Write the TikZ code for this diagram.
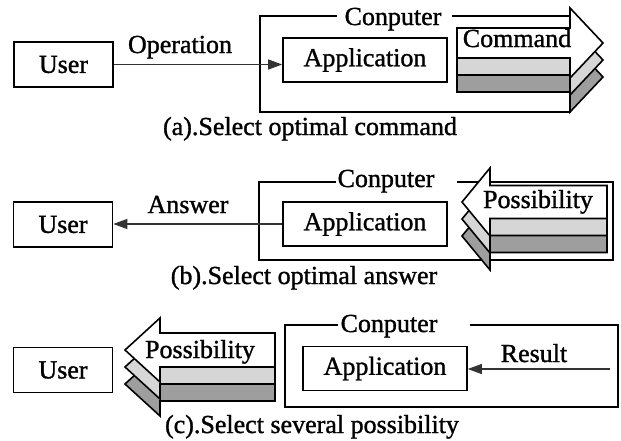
\documentclass[tikz,border=0pt]{standalone}
\usepackage{fontspec}
\setmainfont[FakeBold=1.2]{Liberation Serif}
\usetikzlibrary{arrows.meta,calc}

\definecolor{shadelight}{gray}{0.84}
\definecolor{shadedark}{gray}{0.62}

\tikzset{
  txt/.style={font=\fontsize{26}{30}\selectfont, inner sep=0pt},
  lbl/.style={txt, anchor=base},
  userbox/.style={txt, draw, line width=1.6pt, minimum width=99pt, minimum height=45pt},
  appbox/.style={txt, draw, line width=1.6pt, minimum width=164pt, minimum height=44pt},
  frame/.style={line width=1.6pt, line join=miter},
  layer/.style={draw, line width=1.6pt, line join=miter},
  conn/.style={line width=1.1pt, draw=black!80, -{Triangle[length=14pt,width=10pt]}},
}

% one flat block arrow: fill, tip x, tip y, head back x, tail x, body half height, head half height
\newcommand{\flatarrow}[7]{%
  \draw[layer, fill=#1] ({#5},{#3-#6}) -- ({#4},{#3-#6}) -- ({#4},{#3-#7})
    -- ({#2},{#3}) -- ({#4},{#3+#7}) -- ({#4},{#3+#6}) -- ({#5},{#3+#6}) -- cycle;}

% three block arrows stacked downwards, back to front
\newcommand{\stackedarrow}[6]{%
  \flatarrow{shadedark}{#1}{#2+34}{#3}{#4}{#5}{#6}%
  \flatarrow{shadelight}{#1}{#2+17}{#3}{#4}{#5}{#6}%
  \flatarrow{white}{#1}{#2}{#3}{#4}{#5}{#6}}

\begin{document}
\begin{tikzpicture}[x=1pt,y=-1pt]
\useasboundingbox (0,0) rectangle (621,440);

% ---------- (a) ----------
\draw[frame] (337,16) -- (260,16) -- (260,112) -- (570,112) -- (570,16) -- (452,16);
\node[lbl] (compa) at (393,25) {Conputer};
\stackedarrow{603}{43}{570}{457}{15}{35}
\node[lbl] (cmd) at (517,47) {Command};
\node[userbox] (usera) at (63.5,64.5) {User};
\node[appbox] (appa) at (365,60) {Application};
\draw[conn] (usera.east) -- (usera.east -| appa.west);
\node[lbl] (oplbl) at (180,53) {Operation};
\node[lbl] (capa) at (310,135) {(a).Select optimal command};

% ---------- (b) ----------
\draw[frame] (336,182) -- (259,182) -- (259,260) -- (613,260) -- (613,182) -- (457,182);
\node[lbl] (compb) at (386,187) {Conputer};
\stackedarrow{462}{202}{490}{607}{16.5}{34}
\node[lbl] (possb) at (538,208) {Possibility};
\node[userbox] (userb) at (63,224.5) {User};
\node[appbox] (appb) at (365,224) {Application};
\draw[conn] (appb.west) -- (appb.west -| userb.east);
\node[lbl] (anslbl) at (188,213) {Answer};
\node[lbl] (capb) at (304,284) {(b).Select optimal answer};

% ---------- (c) ----------
\draw[frame] (338,325) -- (285,325) -- (285,407) -- (618,407) -- (618,325) -- (470,325);
\node[lbl] (compc) at (389,332) {Conputer};
\node[userbox] (userc) at (63,370) {User};
\stackedarrow{125}{350}{160}{275}{17}{32}
\node[lbl] (possc) at (200,358) {Possibility};
\node[appbox] (appc) at (385,368.5) {Application};
\coordinate (resfrom) at (610,369);
\draw[conn] (resfrom) -- (resfrom -| appc.east);
\node[lbl] (reslbl) at (534,362) {Result};
\node[lbl] (capc) at (312,433) {(c).Select several possibility};
\end{tikzpicture}
\end{document}
